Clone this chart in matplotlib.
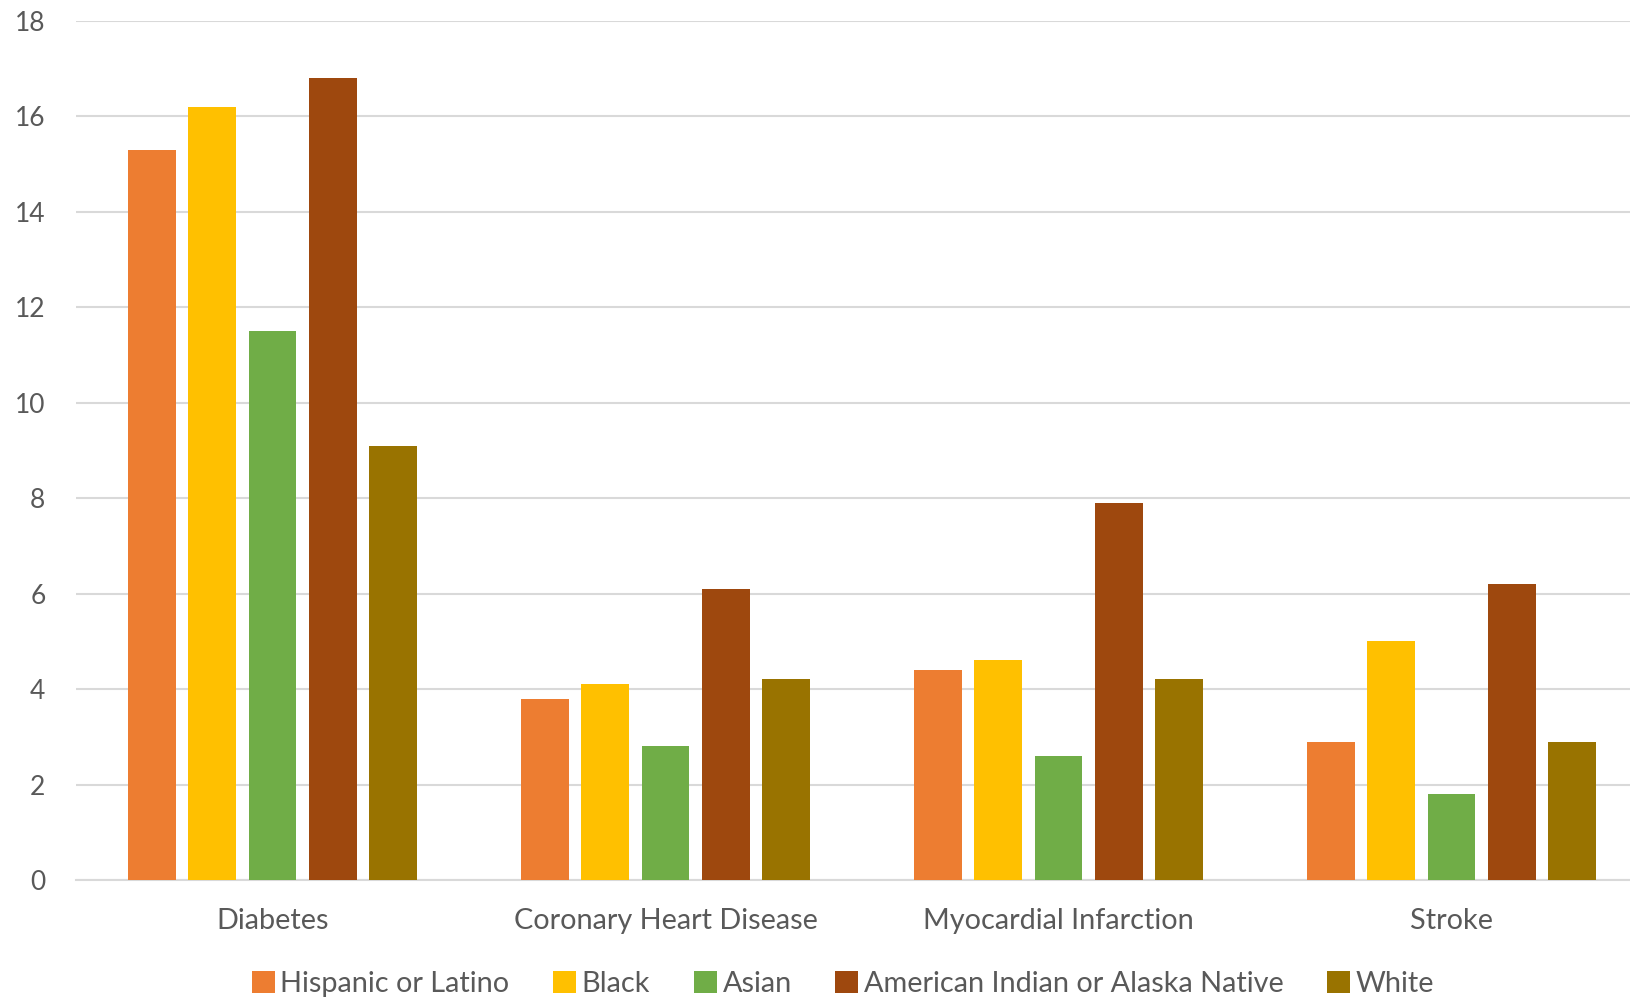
import numpy as np
import matplotlib
matplotlib.use("Agg")
import matplotlib.pyplot as plt
from matplotlib.patches import Patch

categories = ["Diabetes", "Coronary Heart Disease", "Myocardial Infarction", "Stroke"]
groups = ["Hispanic or Latino", "Black", "Asian", "American Indian or Alaska Native", "White"]
hispanic = [15.3, 3.8, 4.4, 2.9]
black = [16.2, 4.1, 4.6, 5.0]
asian = [11.5, 2.8, 2.6, 1.8]
aian = [16.8, 6.1, 7.9, 6.2]
white = [9.1, 4.2, 4.2, 2.9]
yticks = [0, 2, 4, 6, 8, 10, 12, 14, 16, 18]

colors = ["#ED7D31", "#FFC000", "#70AD47", "#9E480E", "#997300"]
text_color = "#595959"

plt.rcParams["font.family"] = ["Lato", "DejaVu Sans"]

fig = plt.figure(figsize=(16.31, 9.97), dpi=100)
ax = fig.add_axes([76 / 1631, 1 - 880 / 997, 1572 / 1631, 859.3 / 997])

x = np.arange(len(categories))
step = 0.1534
width = 0.1217
series = [hispanic, black, asian, aian, white]
for i, (vals, col) in enumerate(zip(series, colors)):
    ax.bar(x + (i - 2) * step, vals, width=width, color=col, zorder=3)

ax.set_xlim(-0.5, len(categories) - 0.5)
ax.set_ylim(0, 18)
ax.set_yticks(yticks)
ax.set_xticks(x)
ax.set_xticklabels(categories)
ax.tick_params(axis="both", length=0, colors=text_color)
ax.tick_params(axis="y", pad=22, labelsize=19)
ax.tick_params(axis="x", pad=20.5, labelsize=20.8)
ax.yaxis.grid(True, color="#D9D9D9", linewidth=1.5, zorder=0)
for side in ["top", "right", "left"]:
    ax.spines[side].set_visible(False)
ax.spines["bottom"].set_color("#D9D9D9")
ax.spines["bottom"].set_linewidth(1.5)

handles = [Patch(facecolor=c, label=g) for c, g in zip(colors, groups)]
fig.legend(handles=handles, loc="center", bbox_to_anchor=(843 / 1631, 1 - 984 / 997),
           ncol=5, frameon=False, fontsize=20.8, labelcolor=text_color,
           handlelength=0.8, handleheight=0.8, handletextpad=0.2, columnspacing=1.5)

fig.savefig("out.png", dpi=100)
